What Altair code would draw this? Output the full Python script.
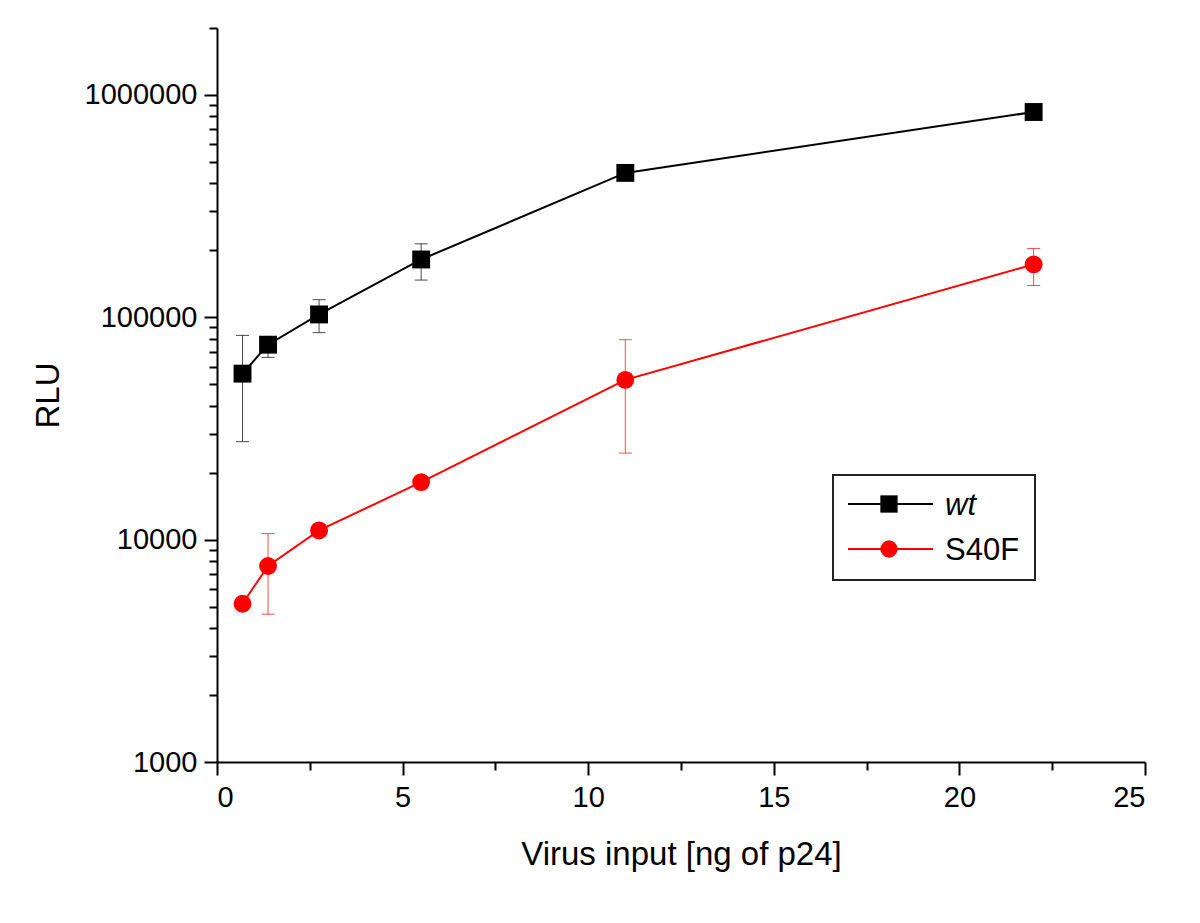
import altair as alt
import pandas as pd

# ---- data ----
x_input = [0.6875, 1.375, 2.75, 5.5, 11, 22]

wt_rlu = [55800, 75300, 103000, 182000, 446000, 838000]
wt_lo = [27600, 66000, 85300, 147000, 425000, 800000]
wt_hi = [82900, 80000, 120000, 214000, 468000, 878000]

s40f_rlu = [5150, 7610, 11000, 18150, 52300, 173000]
s40f_lo = [4850, 4620, 10500, 17300, 24500, 139000]
s40f_hi = [5450, 10640, 11500, 19000, 79300, 204000]

series_names = ["wt", "S40F"]
series_colors = ["#000000", "#ff0000"]
series_shapes = ["square", "circle"]

y_major = [1000, 10000, 100000, 1000000]
y_ticks = [m * d for d in [1000, 10000, 100000, 1000000] for m in range(1, 10)] + [2000000]
y_ticks = [v for v in y_ticks if v <= 2000000]
x_ticks = [0, 2.5, 5, 7.5, 10, 12.5, 15, 17.5, 20, 22.5, 25]

legend_labels = ["wt", "S40F"]

rows = []
for name, vals, lo, hi in [("wt", wt_rlu, wt_lo, wt_hi), ("S40F", s40f_rlu, s40f_lo, s40f_hi)]:
    for xi, v, l, h in zip(x_input, vals, lo, hi):
        rows.append({"series": name, "x": xi, "rlu": v, "lo": l, "hi": h})
df = pd.DataFrame(rows)

FONT = "Liberation Sans"

major_expr = "indexof(" + str(y_major) + ", datum.value) >= 0"

x_axis = alt.Axis(
    values=x_ticks,
    labelExpr="datum.value % 5 == 0 ? datum.label : ''",
    tickSize={"expr": "datum.value % 5 == 0 ? 13 : 8"},
    labelPadding=8,
    titlePadding=26,
    labelOverlap=False,
    grid=False,
)
y_axis = alt.Axis(
    values=y_ticks,
    labelExpr=major_expr + " ? format(datum.value, 'd') : ''",
    tickSize={"expr": major_expr + " ? 13 : 8"},
    labelPadding=7,
    titlePadding=19,
    labelOverlap=False,
    grid=False,
)

x_scale = alt.Scale(domain=[0, 25], nice=False)
y_scale = alt.Scale(type="log", domain=[1000, 2000000], nice=False)

X = alt.X("x:Q", scale=x_scale, axis=x_axis, title="Virus input [ng of p24]")


def Y(field):
    return alt.Y(field, scale=y_scale, axis=y_axis, title="RLU")


color = alt.Color("series:N", scale=alt.Scale(domain=series_names, range=series_colors), legend=None)
shape = alt.Shape("series:N", scale=alt.Scale(domain=series_names, range=series_shapes), legend=None)

base = alt.Chart(df)

err_rule = base.mark_rule(strokeWidth=1, opacity=0.7).encode(x=X, y=Y("lo:Q"), y2="hi:Q", color=color)
cap_lo = base.mark_tick(orient="horizontal", size=13, thickness=1, opacity=0.7).encode(x=X, y=Y("lo:Q"), color=color)
cap_hi = base.mark_tick(orient="horizontal", size=13, thickness=1, opacity=0.7).encode(x=X, y=Y("hi:Q"), color=color)
lines = base.mark_line(strokeWidth=2).encode(x=X, y=Y("rlu:Q"), color=color, detail="series:N")
points = base.mark_point(filled=True, size=320, opacity=1).encode(x=X, y=Y("rlu:Q"), color=color, shape=shape)

# ---- manual legend (box + line/marker + label per entry) ----
one = pd.DataFrame({"k": [0]})
legend_box = alt.Chart(one).mark_rect(fill="white", stroke="#222222", strokeWidth=2).encode(
    x=alt.value(616), x2=alt.value(818), y=alt.value(447), y2=alt.value(552)
)
legend_layers = [legend_box]
entry_y = [476, 521]
for i, lab in enumerate(legend_labels):
    d = pd.DataFrame({"label": [lab]})
    legend_layers.append(
        alt.Chart(d).mark_rule(strokeWidth=2, color=series_colors[i]).encode(
            x=alt.value(631), x2=alt.value(716), y=alt.value(entry_y[i])
        )
    )
    legend_layers.append(
        alt.Chart(d).mark_point(filled=True, size=300, opacity=1, shape=series_shapes[i], color=series_colors[i]).encode(
            x=alt.value(672), y=alt.value(entry_y[i])
        )
    )
    legend_layers.append(
        alt.Chart(d).mark_text(
            align="left", baseline="middle", font=FONT, fontSize=31,
            fontStyle="italic" if lab == "wt" else "normal", color="black"
        ).encode(x=alt.value(728), y=alt.value(entry_y[i] + 2), text="label:N")
    )

chart = alt.layer(err_rule, cap_lo, cap_hi, lines, points, *legend_layers).properties(
    width=928,
    height=734,
    autosize=alt.AutoSizeParams(type="none"),
    padding={"left": 209, "top": 20, "right": 30, "bottom": 130},
).configure_view(stroke=None).configure_axis(
    labelFont=FONT,
    titleFont=FONT,
    labelFontSize=29,
    titleFontSize=33,
    titleFontWeight="normal",
    labelColor="black",
    titleColor="black",
    domainColor="black",
    domainWidth=2,
    tickColor="black",
    tickWidth=2,
)

chart.save("out.html", embed_options={"renderer": "svg", "actions": False})
